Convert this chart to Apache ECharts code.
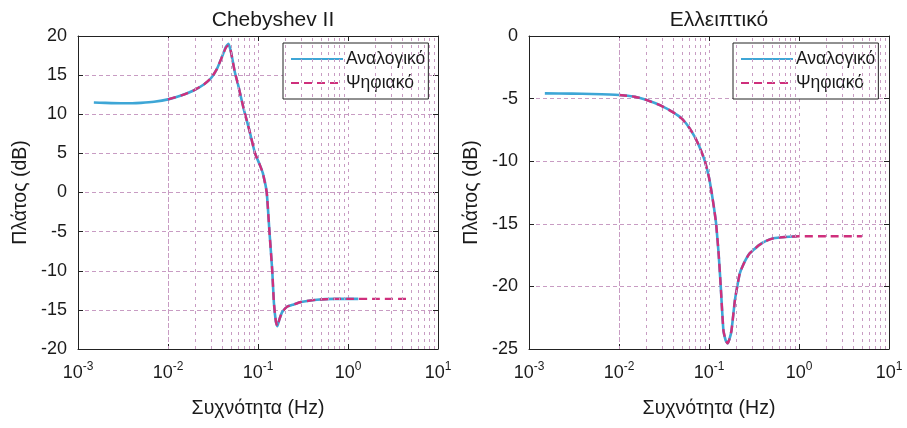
<!DOCTYPE html>
<html>
<head>
<meta charset="utf-8">
<script src="https://cdn.jsdelivr.net/npm/echarts@6/dist/echarts.min.js"></script>
<style>
  html, body { margin: 0; padding: 0; background: #fff; }
  #chart { width: 907px; height: 428px; }
</style>
</head>
<body>
<div id="chart"></div>
<script>
// Chebyshev II response (dB) — analog prototype and digital filter
const chebAnalogFreq = [0.0015, 0.002, 0.003, 0.004, 0.005, 0.007, 0.01, 0.014, 0.019, 0.025, 0.03, 0.035, 0.04, 0.044, 0.047, 0.05, 0.055, 0.06, 0.07, 0.08, 0.0927, 0.105, 0.113, 0.125, 0.134, 0.144, 0.15, 0.158, 0.164, 0.172, 0.185, 0.21, 0.25, 0.3, 0.45, 0.7, 1.0, 1.3];
const chebAnalogDb   = [11.5, 11.45, 11.4, 11.4, 11.45, 11.6, 11.9, 12.4, 13.0, 13.8, 14.6, 15.8, 17.4, 18.6, 19.0, 18.0, 15.5, 13.8, 10.5, 8.0, 5.0, 3.5, 2.5, 0.0, -5.0, -10.0, -14.0, -16.5, -17.1, -16.3, -15.3, -14.6, -14.3, -14.0, -13.7, -13.6, -13.6, -13.6];
const chebDigitalFreq = [0.01, 0.014, 0.019, 0.025, 0.03, 0.035, 0.04, 0.044, 0.047, 0.05, 0.055, 0.06, 0.07, 0.08, 0.0927, 0.105, 0.113, 0.125, 0.134, 0.144, 0.15, 0.158, 0.164, 0.172, 0.185, 0.21, 0.25, 0.3, 0.45, 0.7, 1.0, 2.0, 5.0];
const chebDigitalDb   = [11.9, 12.4, 13.0, 13.8, 14.6, 15.8, 17.4, 18.5, 18.8, 18.0, 15.5, 13.8, 10.5, 8.0, 5.0, 3.5, 2.5, 0.0, -5.0, -10.0, -14.0, -16.5, -17.1, -16.3, -15.3, -14.6, -14.3, -14.0, -13.7, -13.6, -13.6, -13.6, -13.6];

// Elliptic response (dB)
const ellAnalogFreq = [0.0015, 0.003, 0.005, 0.01, 0.015, 0.02, 0.03, 0.04, 0.05, 0.06, 0.07, 0.08, 0.09, 0.1, 0.107, 0.114, 0.12, 0.128, 0.135, 0.1445, 0.153, 0.161, 0.169, 0.178, 0.194, 0.206, 0.22, 0.25, 0.28, 0.31, 0.36, 0.42, 0.52, 0.7, 0.95];
const ellAnalogDb   = [-4.58, -4.6, -4.63, -4.71, -4.85, -5.1, -5.6, -6.1, -6.6, -7.3, -8.1, -9.0, -10.0, -11.3, -12.5, -13.8, -15.0, -17.4, -20.0, -23.5, -24.3, -24.55, -24.2, -23.5, -21.1, -20.0, -18.95, -18.0, -17.4, -17.1, -16.7, -16.4, -16.16, -16.05, -16.0];
const ellDigitalFreq = [0.01, 0.015, 0.02, 0.03, 0.04, 0.05, 0.06, 0.07, 0.08, 0.09, 0.1, 0.107, 0.114, 0.12, 0.128, 0.135, 0.1445, 0.153, 0.161, 0.169, 0.178, 0.194, 0.206, 0.22, 0.25, 0.28, 0.31, 0.36, 0.42, 0.52, 0.7, 1.0, 2.0, 5.0];
const ellDigitalDb   = [-4.71, -4.85, -5.1, -5.6, -6.1, -6.6, -7.3, -8.1, -9.0, -10.0, -11.3, -12.5, -13.8, -15.0, -17.4, -20.0, -23.5, -24.3, -24.55, -24.2, -23.5, -21.1, -20.0, -18.95, -18.0, -17.4, -17.1, -16.7, -16.4, -16.16, -16.05, -16.0, -16.0, -16.0];

const titles = ['Chebyshev II', 'Ελλειπτικό'];
const seriesNames = ['Αναλογικό', 'Ψηφιακό'];
const xAxisName = 'Συχνότητα (Hz)';
const yAxisName = 'Πλάτος (dB)';
const yRanges = [[-20, 20], [-25, 0]];
const yStep = 5;
const freqRange = [0.001, 10];

const FONT = 'Liberation Sans, Arial, sans-serif';
const GRID_COLOR = '#c89cc3';
const BLUE = '#3ea6d6';
const MAGENTA = '#cf2f7c';

// minor decade positions (2..9 x 10^k) for the log-scale grid
const minorGrid = [];
for (let k = -3; k < 1; k++) {
  for (let m = 2; m <= 9; m++) minorGrid.push(+(m * Math.pow(10, k)).toPrecision(3));
}

const grids = [
  { left: 78, top: 36, width: 360, height: 313 },
  { left: 529, top: 36, width: 360, height: 313 }
];

function pairs(xs, ys) { return xs.map((x, i) => [x, ys[i]]); }

const frameLine = { show: true, onZero: false, lineStyle: { color: '#222', width: 1 } };
const frameTick = { show: true, inside: true, length: 5, lineStyle: { color: '#222' } };

const xAxes = [], yAxes = [];
grids.forEach((g, gi) => {
  xAxes.push({
    type: 'log', logBase: 10, gridIndex: gi, min: freqRange[0], max: freqRange[1],
    position: 'bottom',
    name: xAxisName, nameLocation: 'middle', nameGap: 50,
    nameTextStyle: { fontFamily: FONT, fontSize: 19.5, color: '#1a1a1a' },
    axisLine: frameLine,
    axisTick: frameTick,
    axisLabel: {
      margin: 12,
      formatter: v => '{b|10}{s|' + Math.round(Math.log10(v)) + '}',
      rich: {
        b: { fontFamily: FONT, fontSize: 18, color: '#1a1a1a', verticalAlign: 'bottom' },
        s: { fontFamily: FONT, fontSize: 12, color: '#1a1a1a', padding: [0, 0, 9, 0], verticalAlign: 'bottom' }
      }
    },
    splitLine: { show: true, lineStyle: { color: GRID_COLOR, type: [3, 4], width: 1 } }
  });
  xAxes.push({
    type: 'log', logBase: 10, gridIndex: gi, min: freqRange[0], max: freqRange[1],
    position: 'top',
    axisLine: frameLine,
    axisTick: frameTick,
    axisLabel: { show: false },
    splitLine: { show: false }
  });
  yAxes.push({
    type: 'value', gridIndex: gi, min: yRanges[gi][0], max: yRanges[gi][1], interval: yStep,
    position: 'left',
    name: yAxisName, nameLocation: 'middle', nameGap: 47, nameRotate: 90,
    nameTextStyle: { fontFamily: FONT, fontSize: 19.5, color: '#1a1a1a' },
    axisLine: frameLine,
    axisTick: frameTick,
    axisLabel: { fontFamily: FONT, fontSize: 18, color: '#1a1a1a', margin: 11 },
    splitLine: { show: true, lineStyle: { color: GRID_COLOR, type: [4, 3], width: 1 } }
  });
  yAxes.push({
    type: 'value', gridIndex: gi, min: yRanges[gi][0], max: yRanges[gi][1], interval: yStep,
    position: 'right',
    axisLine: frameLine,
    axisTick: frameTick,
    axisLabel: { show: false },
    splitLine: { show: false }
  });
});

const panels = [
  { analog: pairs(chebAnalogFreq, chebAnalogDb), digital: pairs(chebDigitalFreq, chebDigitalDb) },
  { analog: pairs(ellAnalogFreq, ellAnalogDb), digital: pairs(ellDigitalFreq, ellDigitalDb) }
];

const series = [];
panels.forEach((p, gi) => {
  series.push({
    name: seriesNames[0], type: 'line', xAxisIndex: gi * 2, yAxisIndex: gi * 2,
    data: p.analog, showSymbol: false, symbol: 'none', smooth: 0.15, z: 3,
    lineStyle: { color: BLUE, width: 2.6 }, itemStyle: { color: BLUE },
    markLine: {
      silent: true, symbol: 'none', label: { show: false },
      lineStyle: { color: GRID_COLOR, type: [3, 4], width: 1 },
      data: minorGrid.map(v => ({ xAxis: v }))
    }
  });
  series.push({
    name: seriesNames[1], type: 'line', xAxisIndex: gi * 2, yAxisIndex: gi * 2,
    data: p.digital, showSymbol: false, symbol: 'none', smooth: 0.15, z: 4,
    lineStyle: { color: MAGENTA, width: 2.4, type: [8, 5] }, itemStyle: { color: MAGENTA }
  });
});

const legendBase = {
  orient: 'vertical', top: 43, itemWidth: 52, itemHeight: 14, itemGap: 6,
  padding: [7, 3, 7, 7], backgroundColor: '#fff', borderColor: '#222', borderWidth: 1, borderRadius: 0,
  itemStyle: { opacity: 0 },
  textStyle: { fontFamily: FONT, fontSize: 17.5, color: '#1a1a1a', padding: [0, 0, 0, -2] },
  data: seriesNames, selectedMode: false
};

const option = {
  animation: false,
  backgroundColor: '#fff',
  title: [
    { text: titles[0], left: 268, top: 5, textAlign: 'center', textStyle: { fontFamily: FONT, fontSize: 21, fontWeight: 'normal', color: '#1a1a1a' } },
    { text: titles[1], left: 714, top: 5, textAlign: 'center', textStyle: { fontFamily: FONT, fontSize: 21, fontWeight: 'normal', color: '#1a1a1a' } }
  ],
  legend: [
    Object.assign({}, legendBase, { left: 283 }),
    Object.assign({}, legendBase, { left: 733 })
  ],
  grid: grids,
  xAxis: xAxes,
  yAxis: yAxes,
  series: series
};

const chart = echarts.init(document.getElementById('chart'), null, { renderer: 'canvas' });
chart.setOption(option);
</script>
</body>
</html>
